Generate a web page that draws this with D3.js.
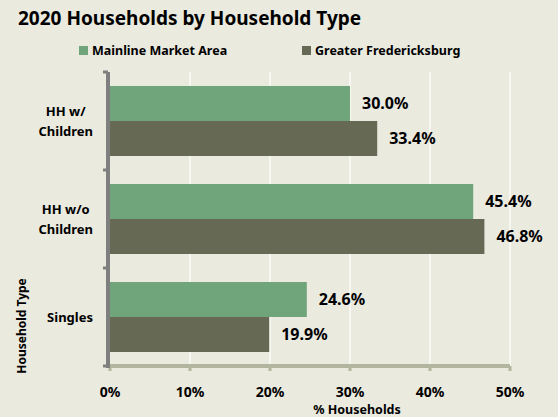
<!DOCTYPE html>
<html>
<head>
<meta charset="utf-8">
<script src="https://cdn.jsdelivr.net/npm/d3@7"></script>
<style>
  body { margin: 0; background: #eaeadf; }
  text { font-family: "Noto Sans", sans-serif; font-weight: bold; fill: #000; }
</style>
</head>
<body>
<div id="chart"></div>
<script>
const categories = [["HH w/", "Children"], ["HH w/o", "Children"], ["Singles"]]
const seriesNames = ["Mainline Market Area", "Greater Fredericksburg"]
const mainline = [30.0, 45.4, 24.6]
const fredericksburg = [33.4, 46.8, 19.9]
const xTicks = [0, 10, 20, 30, 40, 50]
const colors = ["#70a47a", "#666953"]

const width = 558, height = 417
const margin = {top: 72, right: 48, bottom: 51, left: 110}

let svg = d3.select("#chart")
    .append("svg")
    .attr("width", width)
    .attr("height", height)

svg.append("rect").attr("width", width).attr("height", height).attr("fill", "#eaeadf")

let g = svg.append("g")
    .attr("transform", `translate(${margin.left}, ${margin.top})`)

const innerW = width - margin.left - margin.right
const innerH = height - margin.top - margin.bottom

let x = d3.scaleLinear().domain([0, 50]).range([0, innerW])
let y = d3.scaleBand().domain(d3.range(categories.length)).range([0, innerH])
let ySub = d3.scaleBand().domain([0, 1]).range([0, y.bandwidth()]).paddingOuter(0.4).paddingInner(0)

// gridlines
g.selectAll(".grid").data(xTicks.slice(1))
    .enter().append("line")
    .attr("x1", d => x(d)).attr("x2", d => x(d))
    .attr("y1", 0).attr("y2", innerH)
    .attr("stroke", "#ffffff").attr("stroke-width", 1.2)

const rows = []
categories.forEach((c, i) => {
    rows.push({cat: i, s: 0, v: mainline[i]})
    rows.push({cat: i, s: 1, v: fredericksburg[i]})
})

g.selectAll(".bar").data(rows)
    .enter().append("rect")
    .attr("x", 0)
    .attr("y", d => y(d.cat) + ySub(d.s))
    .attr("width", d => x(d.v))
    .attr("height", ySub.bandwidth())
    .attr("fill", d => colors[d.s])

g.selectAll(".val").data(rows)
    .enter().append("text")
    .attr("x", d => x(d.v) + 12)
    .attr("y", d => y(d.cat) + ySub(d.s) + ySub.bandwidth() / 2)
    .attr("dy", "0.36em")
    .style("font-size", "16px")
    .text(d => d.v.toFixed(1) + "%")

// x axis
let xAxis = g.append("g").attr("transform", `translate(0,${innerH})`)
xAxis.append("line").attr("x1", -2).attr("x2", innerW).attr("y1", 0).attr("y2", 0)
    .attr("stroke", "#b3b69f").attr("stroke-width", 4)
xAxis.selectAll(".tk").data(xTicks).enter().append("line")
    .attr("x1", d => x(d)).attr("x2", d => x(d)).attr("y1", 0).attr("y2", 5)
    .attr("stroke", "#b3b69f").attr("stroke-width", 3)
xAxis.selectAll(".tl").data(xTicks).enter().append("text")
    .attr("x", d => x(d)).attr("y", 25.5)
    .attr("dy", "0.36em")
    .attr("text-anchor", "middle")
    .style("font-size", "14px")
    .text(d => d + "%")

// y axis
let yAxis = g.append("g")
yAxis.append("line").attr("x1", -2).attr("x2", -2).attr("y1", 0).attr("y2", innerH + 2)
    .attr("stroke", "#7f7f7f").attr("stroke-width", 4)
yAxis.selectAll(".tk").data(d3.range(categories.length + 1)).enter().append("line")
    .attr("x1", -7).attr("x2", -2)
    .attr("y1", d => d * y.step()).attr("y2", d => d * y.step())
    .attr("stroke", "#7f7f7f").attr("stroke-width", 3)

categories.forEach((lines, i) => {
    let t = yAxis.append("text")
        .attr("text-anchor", "middle")
        .style("font-size", "13px")
    lines.forEach((ln, j) => {
        t.append("tspan")
            .attr("x", 0)
            .attr("y", y(i) + y.bandwidth() / 2 + (j - (lines.length - 1) / 2) * 20)
            .attr("dy", "0.36em")
            .text(ln)
    })
    let w = t.node().getBBox().width
    t.selectAll("tspan").attr("x", -17 - w / 2)
})

// axis titles
svg.append("text")
    .attr("x", 357).attr("y", 409)
    .attr("dy", "0.36em")
    .attr("text-anchor", "middle")
    .style("font-size", "12.5px")
    .text("% Households")

svg.append("text")
    .attr("transform", "translate(22,326) rotate(-90)")
    .attr("dy", "0.36em")
    .attr("text-anchor", "middle")
    .style("font-size", "12px")
    .text("Household Type")

// title
svg.append("text")
    .attr("x", 18).attr("y", 18)
    .attr("dy", "0.36em")
    .style("font-size", "19px")
    .text("2020 Households by Household Type")

// legend
const legendX = [79, 302]
seriesNames.forEach((n, i) => {
    svg.append("rect").attr("x", legendX[i]).attr("y", 46).attr("width", 9).attr("height", 9)
        .attr("fill", colors[i])
    svg.append("text").attr("x", legendX[i] + 13).attr("y", 50.5)
        .attr("dy", "0.36em")
        .style("font-size", "12.5px")
        .text(n)
})
</script>
</body>
</html>
